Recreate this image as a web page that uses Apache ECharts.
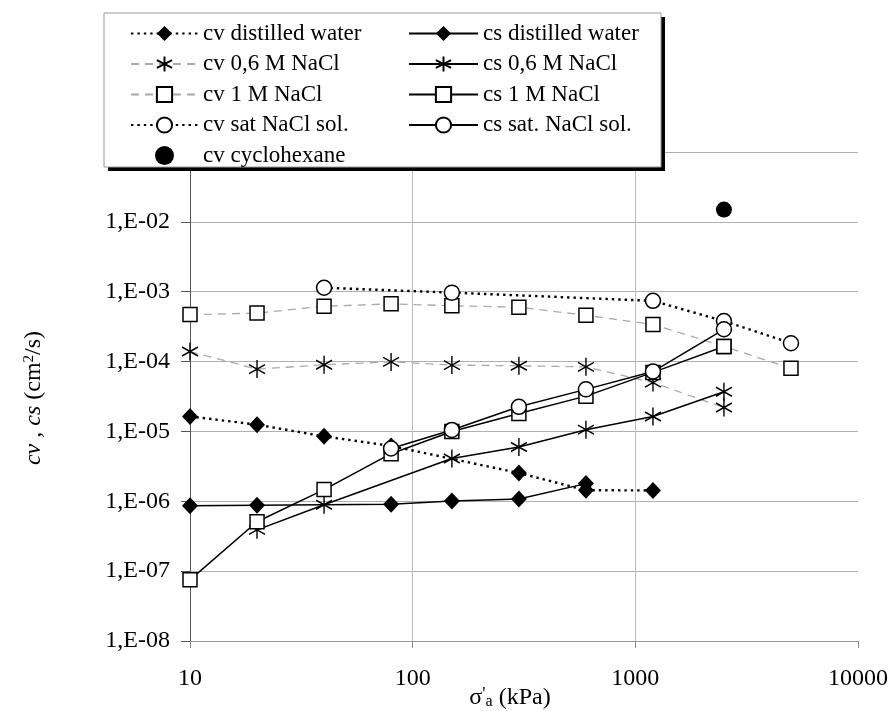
<!DOCTYPE html>
<html>
<head>
<meta charset="utf-8">
<script src="https://cdn.jsdelivr.net/npm/echarts@6/dist/echarts.min.js"></script>
<style>
  html, body { margin: 0; padding: 0; background: #fff; }
  #chart { width: 892px; height: 711px; }
</style>
</head>
<body>
<div id="chart"></div>
<script>
// Consolidation (cv) and swelling (cs) coefficients vs. axial effective stress
const FONT = 'Liberation Serif, "Times New Roman", serif';

// x ticks (kPa) and y ticks (cm2/s)
const xTicks = [10, 100, 1000, 10000];
const yTicks = [1e-8, 1e-7, 1e-6, 1e-5, 1e-4, 1e-3, 1e-2, 1e-1];

// cv series
const cvWaterP = [10, 20, 40, 80, 300, 600, 1200];
const cvWater  = [1.64e-5, 1.25e-5, 8.5e-6, 6.2e-6, 2.54e-6, 1.44e-6, 1.43e-6];

const cv06P = [10, 20, 40, 80, 150, 300, 600, 1200, 2500];
const cv06  = [1.39e-4, 7.8e-5, 9.0e-5, 9.9e-5, 8.9e-5, 8.7e-5, 8.4e-5, 5.0e-5, 2.2e-5];

const cv1MP = [10, 20, 40, 80, 150, 300, 600, 1200, 2500, 5000];
const cv1M  = [4.7e-4, 4.94e-4, 6.2e-4, 6.7e-4, 6.3e-4, 6.0e-4, 4.6e-4, 3.4e-4, 1.65e-4, 8.0e-5];

const cvSatP = [40, 150, 1200, 2500, 5000];
const cvSat  = [1.14e-3, 9.7e-4, 7.4e-4, 3.8e-4, 1.83e-4];

const cvCycloP = [2500];
const cvCyclo  = [1.5e-2];

// cs series
const csWaterP = [10, 20, 80, 150, 300, 600];
const csWater  = [8.6e-7, 8.8e-7, 9.1e-7, 1.01e-6, 1.08e-6, 1.79e-6];

const cs06P = [20, 40, 150, 300, 600, 1200, 2500];
const cs06  = [3.9e-7, 8.9e-7, 4.1e-6, 6.0e-6, 1.06e-5, 1.64e-5, 3.7e-5];

const cs1MP = [10, 20, 40, 80, 150, 300, 600, 1200, 2500];
const cs1M  = [7.5e-8, 5.1e-7, 1.47e-6, 4.8e-6, 1.0e-5, 1.8e-5, 3.2e-5, 7.0e-5, 1.64e-4];

const csSatP = [80, 150, 300, 600, 1200, 2500];
const csSat  = [5.7e-6, 1.05e-5, 2.25e-5, 4.0e-5, 7.2e-5, 2.9e-4];

const names = {
  cvWater: 'cv distilled water', cv06: 'cv 0,6 M NaCl', cv1M: 'cv 1 M NaCl',
  cvSat: 'cv sat NaCl sol.', cvCyclo: 'cv cyclohexane',
  csWater: 'cs distilled water', cs06: 'cs 0,6 M NaCl', cs1M: 'cs 1 M NaCl',
  csSat: 'cs sat. NaCl sol.'
};

function pairs(xs, ys) { return xs.map((x, i) => [x, ys[i]]); }

// six-armed star marker
const ASTERISK = 'path://M0,-10L0,10M-8.66,-5L8.66,5M-8.66,5L8.66,-5';

const dotted = { color: '#000', width: 2.4, type: [2.4, 4] };
const dashedGrey = { color: '#aaa', width: 1.3, type: [8, 6] };
const solid = { color: '#000', width: 1.5, type: 'solid' };

const diamondStyle = { color: '#000', borderColor: '#000', borderWidth: 0, opacity: 1 };
const starStyle = { color: '#000', borderColor: '#000', borderWidth: 1.5, opacity: 1 };
const openStyle = { color: '#fff', borderColor: '#000', borderWidth: 1.5, opacity: 1 };

function lineSeries(name, xs, ys, lineStyle, symbol, size, itemStyle) {
  return {
    name: name, type: 'line', data: pairs(xs, ys),
    lineStyle: lineStyle, symbol: symbol, symbolSize: size,
    itemStyle: itemStyle, showAllSymbol: true, showSymbol: true,
    emphasis: { disabled: true }, animation: false
  };
}

function sciLabel(v) {
  const e = Math.round(Math.log10(v));
  const a = Math.abs(e);
  return '1,E' + (e < 0 ? '-' : '+') + (a < 10 ? '0' + a : '' + a);
}

const legendText = { fontFamily: FONT, fontSize: 23, color: '#000', lineHeight: 22 };

const option = {
  backgroundColor: '#fff',
  animation: false,
  grid: { left: 190, right: 34, top: 152, bottom: 70, containLabel: false },
  xAxis: {
    type: 'log', logBase: 10, min: xTicks[0], max: xTicks[xTicks.length - 1],
    axisLine: { show: true, lineStyle: { color: '#999', width: 1.2 } },
    axisTick: { show: true, length: 7, inside: false, lineStyle: { color: '#888' } },
    minorTick: { show: false },
    axisLabel: {
      margin: 26, fontFamily: FONT, fontSize: 24, color: '#000',
      formatter: v => String(Math.round(v))
    },
    splitLine: { show: true, showMinLine: false, showMaxLine: false,
      lineStyle: { color: '#bbb', width: 1 } }
  },
  yAxis: {
    type: 'log', logBase: 10, min: yTicks[0], max: yTicks[yTicks.length - 1],
    axisLine: { show: true, lineStyle: { color: '#555', width: 1 } },
    axisTick: { show: true, length: 9, inside: false, lineStyle: { color: '#555' } },
    minorTick: { show: false },
    axisLabel: { margin: 20, fontFamily: FONT, fontSize: 24, color: '#000', formatter: sciLabel },
    splitLine: { show: true, lineStyle: { color: '#b0b0b0', width: 1.2 } }
  },
  legend: [
    {
      orient: 'vertical', left: 130, top: 22, padding: 0,
      itemWidth: 67, itemHeight: 19, itemGap: 7.5, itemTextGap: 6,
      selectedMode: false, z: 20, textStyle: legendText,
      data: [names.cvWater, names.cv06, names.cv1M, names.cvSat, names.cvCyclo]
    },
    {
      orient: 'vertical', left: 408, top: 22, padding: 0,
      itemWidth: 69, itemHeight: 19, itemGap: 7.5, itemTextGap: 6,
      selectedMode: false, z: 20, textStyle: legendText,
      data: [names.csWater, names.cs06, names.cs1M, names.csSat]
    }
  ],
  graphic: [
    { type: 'rect', z: 9, silent: true,
      shape: { x: 108, y: 17, width: 557, height: 154 },
      style: { fill: '#000' } },
    { type: 'rect', z: 10, silent: true,
      shape: { x: 104, y: 13, width: 557, height: 154 },
      style: { fill: '#fff', stroke: '#999', lineWidth: 1 } },
    { type: 'text', z: 10, silent: true,
      x: 34, y: 398, rotation: Math.PI / 2,
      style: {
        text: '{i|cv , cs} (cm{sup|2}/s)',
        fontFamily: FONT, fontSize: 24, fill: '#000',
        align: 'center', verticalAlign: 'middle',
        rich: {
          i: { fontFamily: FONT, fontSize: 24, fontStyle: 'italic', fill: '#000' },
          sup: { fontFamily: FONT, fontSize: 15, verticalAlign: 'top', fill: '#000' }
        }
      } },
    { type: 'text', z: 10, silent: true,
      x: 510, y: 698,
      style: {
        text: "σ{p|'}{sub|a} (kPa)",
        fontFamily: FONT, fontSize: 24, fill: '#000',
        align: 'center', verticalAlign: 'middle',
        rich: {
          p: { fontFamily: FONT, fontSize: 18, verticalAlign: 'top', fill: '#000' },
          sub: { fontFamily: FONT, fontSize: 16, verticalAlign: 'bottom', fill: '#000' }
        }
      } }
  ],
  series: [
    lineSeries(names.cvWater, cvWaterP, cvWater, dotted, 'diamond', [16, 17], diamondStyle),
    lineSeries(names.cv06, cv06P, cv06, dashedGrey, ASTERISK, [16, 18], starStyle),
    lineSeries(names.cv1M, cv1MP, cv1M, dashedGrey, 'rect', 14, openStyle),
    lineSeries(names.cvSat, cvSatP, cvSat, dotted, 'circle', 15, openStyle),
    {
      name: names.cvCyclo, type: 'scatter', data: pairs(cvCycloP, cvCyclo),
      symbol: 'circle', symbolSize: 16, itemStyle: { color: '#000', opacity: 1 },
      emphasis: { disabled: true }, animation: false
    },
    lineSeries(names.csWater, csWaterP, csWater, solid, 'diamond', [16, 17], diamondStyle),
    lineSeries(names.cs06, cs06P, cs06, solid, ASTERISK, [16, 18], starStyle),
    lineSeries(names.cs1M, cs1MP, cs1M, solid, 'rect', 14, openStyle),
    lineSeries(names.csSat, csSatP, csSat, solid, 'circle', 15, openStyle)
  ]
};

const chart = echarts.init(document.getElementById('chart'), null, { renderer: 'canvas' });
chart.setOption(option);
</script>
</body>
</html>
